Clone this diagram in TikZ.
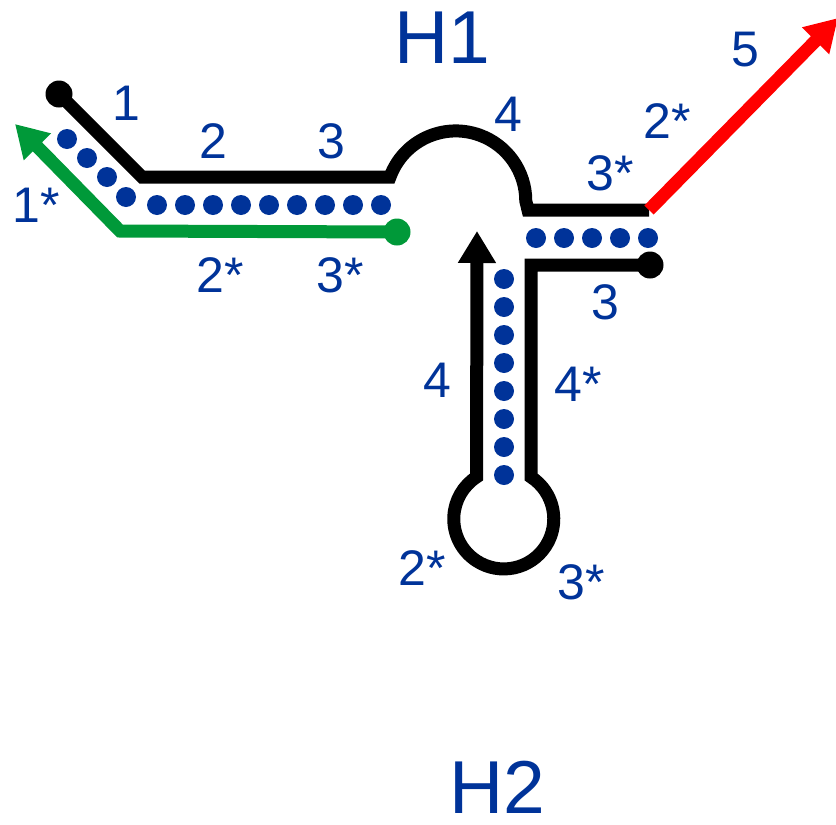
\documentclass[tikz,border=0pt]{standalone}
\usepackage{fontspec}
\setmainfont{Liberation Sans}
\usetikzlibrary{arrows.meta}
\definecolor{strandblue}{RGB}{0,51,153}
\definecolor{strandgreen}{RGB}{0,153,57}
\begin{document}
\begin{tikzpicture}[x=1pt,y=-1pt,
  strand/.style={line width=13pt, line join=miter, line cap=butt},
  bp/.style={fill=strandblue},
  lbl/.style={text=strandblue, font=\fontsize{50}{50}\selectfont, inner sep=0pt},
  hairpin/.style={text=strandblue, font=\fontsize{75}{75}\selectfont, inner sep=0pt},
  endball/.style={circle, fill=#1, inner sep=0pt, minimum size=27pt},
  bigtip/.style={-{Triangle[length=32pt,width=36pt]}}]
\useasboundingbox (0,0) rectangle (836,825);

% strand ends
\node[endball=black] (h1end) at (59,94) {};
\node[endball=strandgreen] (primerend) at (397,232) {};
\node[endball=black] (h2end) at (650,265) {};

% bend and loop points
\coordinate (h1bend) at (142,177);
\coordinate (h1loopin) at (390,177);
\coordinate (h1loopout) at (528,210);
\coordinate (h1tail) at (649,210);
\coordinate (outtip) at (838,18);
\coordinate (pbend) at (120,231);
\coordinate (ptip) at (15,124);
\coordinate (h2bend) at (531,265);
\coordinate (h2stem) at (531,477);
\coordinate (h2tip) at (477,231);

% hairpin H1 with its loop
\draw[strand] (h1end.center) -- (h1bend) -- (h1loopin)
  arc[start angle=200, end angle=360, radius=70] -- (h1loopout) -- (h1tail);
% released toehold, domain 5
\draw[strand, red, bigtip] (h1tail) -- (outtip);
% primer strand
\draw[strand, strandgreen, bigtip]
  (primerend.center) -- (pbend) -- (ptip);
% hairpin H2 with its loop
\draw[strand, bigtip] (h2end.center) -- (h2bend) -- (h2stem)
  arc[start angle=-57, end angle=237, radius=50] -- (h2tip);

% base pairs
\foreach \p in {(67,139),(87,158),(107,177),(126,197)}
  \fill[bp] \p circle[radius=10];
\foreach \x in {157,185,...,382}
  \fill[bp] (\x,205) circle[radius=10];
\foreach \x in {536,564,...,649}
  \fill[bp] (\x,238) circle[radius=10];
\foreach \y in {279,307,...,476}
  \fill[bp] (504,\y) circle[radius=10];

% domain labels
\node[lbl] (d1) at (126,103) {1};
\node[lbl] (d2) at (213,141) {2};
\node[lbl] (d3) at (331,141) {3};
\node[lbl] (d4) at (508,114) {4};
\node[lbl] (d3s) at (610,173) {3*};
\node[lbl] (d2s) at (667,121) {2*};
\node[lbl] (d5) at (745,50) {5};
\node[lbl] (p1s) at (36,205) {1*};
\node[lbl] (p2s) at (220,275) {2*};
\node[lbl] (p3s) at (340,275) {3*};
\node[lbl] (e3) at (605,302) {3};
\node[lbl] (e4) at (437,380) {4};
\node[lbl] (e4s) at (578,384) {4*};
\node[lbl] (e2s) at (422,568) {2*};
\node[lbl] (e3s) at (581,582) {3*};

% hairpin names
\node[hairpin] (H1) at (442,38) {H1};
\node[hairpin] (H2) at (497,787) {H2};
\end{tikzpicture}
\end{document}
